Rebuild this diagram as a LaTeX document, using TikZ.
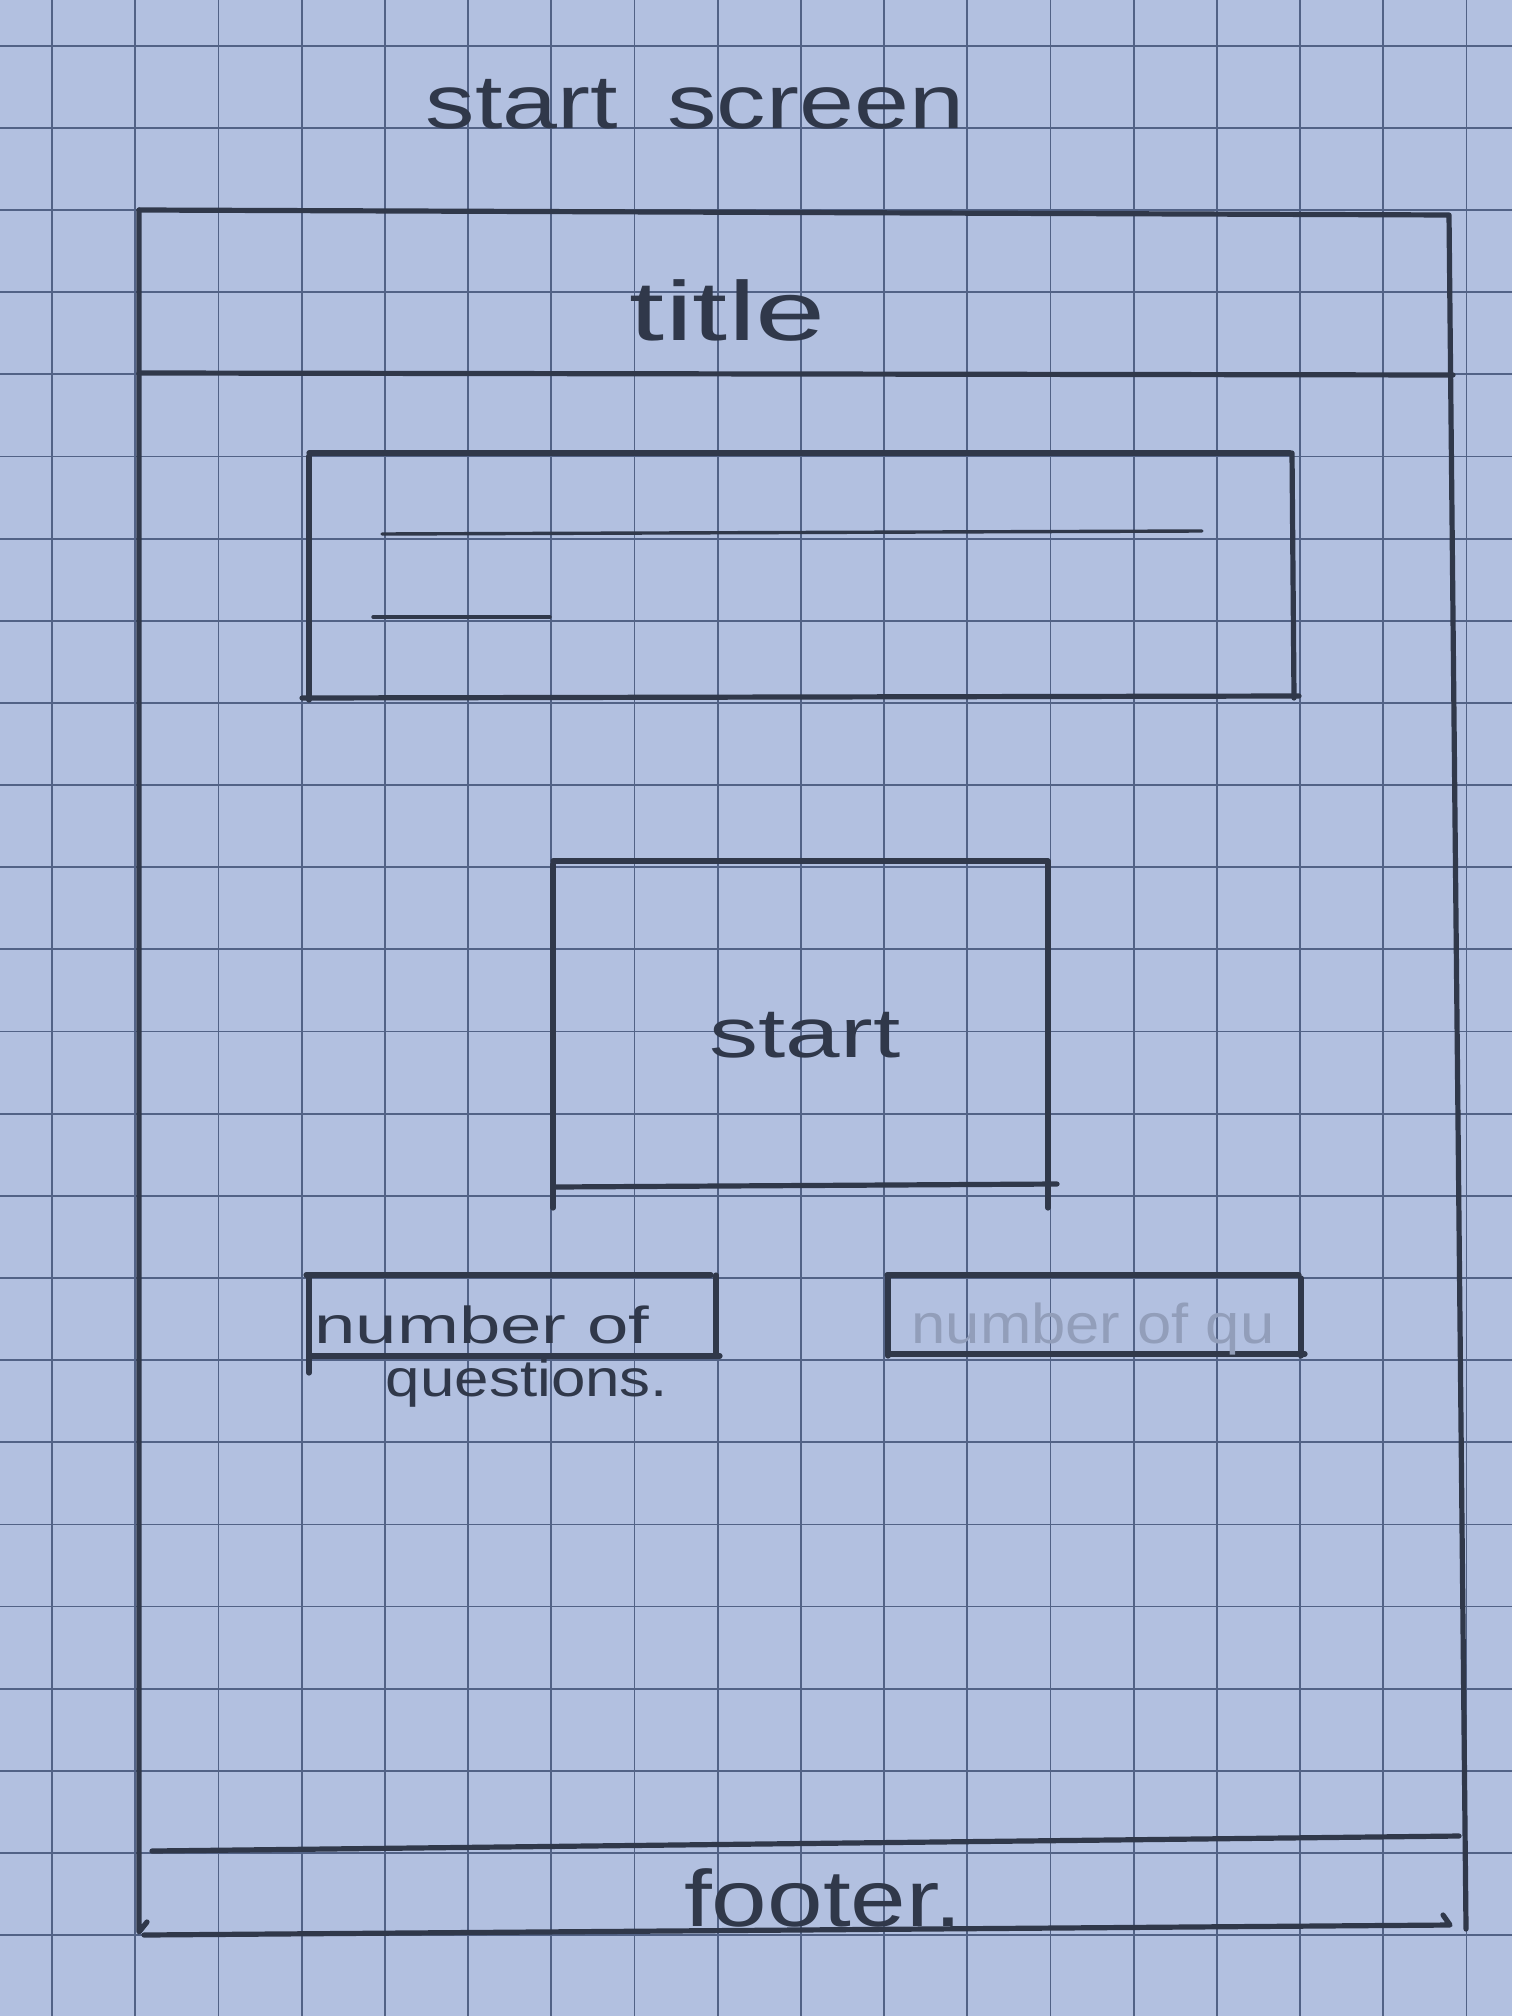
\documentclass[tikz,border=0pt]{standalone}
\usepackage{fontspec}
\setmainfont{Liberation Sans}
\usepackage{graphicx}
\definecolor{paper}{RGB}{178,192,224}
\definecolor{gridc}{RGB}{82,98,134}
\definecolor{pencil}{RGB}{48,56,74}
\definecolor{faint}{RGB}{146,158,186}
\tikzset{
 pen/.style={draw=pencil, line width=2.6pt, line cap=round, line join=round},
 thinpen/.style={draw=pencil, line width=1.7pt, line cap=round},
 hand/.style={text=pencil, inner sep=0pt, anchor=base},
 gridline/.style={draw=gridc, line width=0.9pt},
}
\begin{document}
\begin{tikzpicture}[x=0.5pt,y=-0.5pt]
\fill[paper] (0,0) rectangle (1512,2016);
\useasboundingbox (0,0) rectangle (1512,2016);
% grid paper
\foreach \i in {0,...,17} \draw[gridline] ({52+83.2*\i},0) -- ({52+83.2*\i},2016);
\foreach \j in {-2,...,22} \draw[gridline] (0,{210+82.15*\j}) -- (1512,{210+82.15*\j});
% heading
\node[hand] (heading) at (695,129) {\fontsize{38}{40}\selectfont\scalebox{1.3}[1]{start\hspace{0.5em}screen}};
% outer frame
\coordinate (otl) at (139,210);
\coordinate (otr) at (1449,215);
\coordinate (obr) at (1466,1929);
\coordinate (obl) at (139,1932);
\draw[pen] (otl) -- (otr) -- (obr);
\draw[pen] (otl) -- (obl) -- ++(8,-10);
% title bar
\coordinate (tbl) at (139,373);
\coordinate (tbr) at (1453,375);
\draw[pen] (tbl) -- (tbr);
\node[hand] (title) at (728,341) {\fontsize{42}{44}\selectfont\scalebox{1.5}[1]{title}};
% content box
\draw[pen] (309,453) -- (1290,453);
\draw[pen] (309,456) -- (309,700);
\draw[pen] (1292,453) -- (1294,698);
\draw[pen] (302,698) -- (1299,696);
\draw[thinpen] (382,534) -- (1202,531);
\draw[thinpen] (373,617) -- (550,617);
% start button
\draw[pen] (553,861) -- (1048,861);
\draw[pen] (553,864) -- (553,1208);
\draw[pen] (1048,861) -- (1048,1208);
\draw[pen] (555,1187) -- (1057,1184);
\node[hand] (start) at (805,1057) {\fontsize{35}{37}\selectfont\scalebox{1.4}[1]{start}};
% number of questions box 1
\draw[pen] (306,1275) -- (711,1275);
\draw[pen] (309,1275) -- (309,1373);
\draw[pen] (716,1275) -- (716,1356);
\draw[pen] (309,1356) -- (720,1356);
\node[hand] (nq1) at (482,1343) {\fontsize{26}{28}\selectfont\scalebox{1.43}[1]{number of}};
\node[hand] (nq2) at (527,1396) {\fontsize{26}{28}\selectfont\scalebox{1.19}[1]{questions.}};
% number of questions box 2
\draw[pen] (887,1275) -- (1299,1275);
\draw[pen] (888,1275) -- (888,1356);
\draw[pen] (1301,1278) -- (1301,1356);
\draw[pen] (888,1354) -- (1305,1354);
\node[hand, text=faint] (nq3) at (1093,1343) {\fontsize{28}{30}\selectfont\scalebox{1.1}[1]{number of qu}};
% footer
\draw[pen] (152,1851) -- (1459,1836);
\draw[pen] (144,1935) -- (1450,1925) -- (1443,1915);
\node[hand] (footer) at (823,1926) {\fontsize{40}{42}\selectfont\scalebox{1.25}[1]{footer.}};
\end{tikzpicture}
\end{document}
